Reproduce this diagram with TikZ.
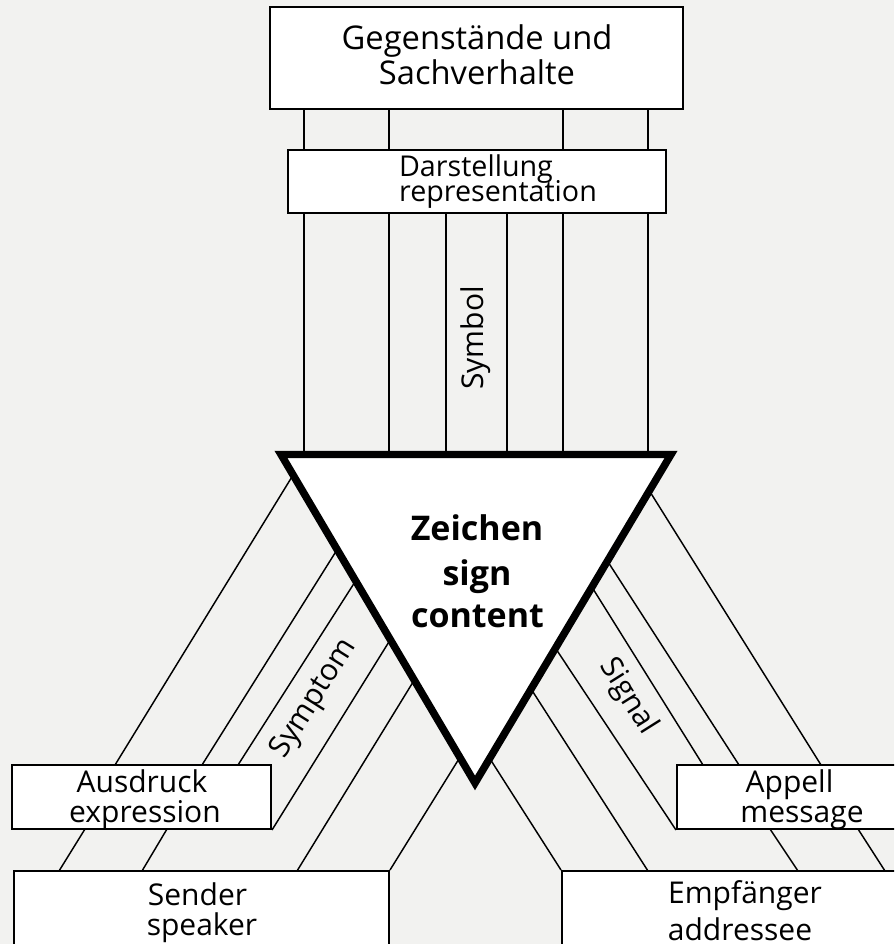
\documentclass[tikz,border=0pt]{standalone}
\usepackage{fontspec}
\setmainfont{Open Sans}
\usetikzlibrary{calc}
\definecolor{bg}{RGB}{242,242,240}
\begin{document}
\begin{tikzpicture}[x=0.75pt,y=-0.75pt,
  box/.style={draw=black,line width=1.5pt,fill=white,inner sep=0pt},
  lnk/.style={draw=black,line width=1.1pt,shorten <=-4pt},
  vlnk/.style={draw=black,line width=1.1pt},
  lbl/.style={inner sep=0pt,anchor=base},
  bigt/.style={font=\fontsize{24.5}{29}\selectfont},
  midt/.style={font=\fontsize{21.5}{25}\selectfont},
  boxt/.style={font=\fontsize{22.5}{26}\selectfont},
  sendt/.style={font=\fontsize{22.5}{26}\selectfont},
  signt/.style={font=\fontsize{25.5}{30}\selectfont\bfseries},
  rott/.style={inner sep=0pt,font=\fontsize{22.5}{26}\selectfont}]
\useasboundingbox (0,0) rectangle (894,944);
\fill[bg] (0,0) rectangle (894,944);
\begin{scope}
\clip (0,0) rectangle (894,944);
% boxes
\node[box,minimum width=309.75pt,minimum height=76.5pt] (top) at (476.5,58) {};
\node[box,minimum width=283.5pt,minimum height=47.25pt] (dar) at (477,181.5) {};
\node[box,minimum width=194.25pt,minimum height=48pt] (aus) at (141.5,797) {};
\node[box,minimum width=281.25pt,minimum height=90pt] (sen) at (201.5,931) {};
\node[box,minimum width=261pt,minimum height=90pt] (emp) at (736,931) {};
\node[box,minimum width=174.75pt,minimum height=48pt] (app) at (793.5,797) {};
% vertical links
\foreach \x in {304,389,563,648} \draw[vlnk] (\x,109) -- (\x,150);
\foreach \x in {304,389,446,507,563,648} \draw[vlnk] (\x,213) -- (\x,456);
% left links
\draw[lnk] (290,480) -- (115,765);
\draw[lnk] (335,553) -- (202,765);
\draw[lnk] (353,585) -- (238,765);
\draw[lnk] (387,645) -- (aus.south east);
\draw[lnk] (410,687) -- (297,871);
\draw[lnk] (457,762) -- (sen.north east);
\draw[vlnk] (85,829) -- (59,871);
\draw[vlnk] (167,829) -- (142,871);
% right links
\draw[lnk] (652,495) -- (821,765);
\draw[lnk] (610,565) -- (739,765);
\draw[lnk] (595,592) -- (703,765);
\draw[lnk] (558,652) -- (app.south west);
\draw[lnk] (533,692) -- (648,871);
\draw[lnk] (492,762) -- (emp.north west);
\draw[vlnk] (770,829) -- (798,871);
\draw[vlnk] (858,829) -- (885,871);
% triangle
\draw[line width=5.6pt,fill=white,miter limit=10] (281,454.5) coordinate (tl) -- (671,454.5) coordinate (tr) -- (475,783) coordinate (tb) -- cycle;
% texts
\node[lbl,bigt] (t1) at (477,50) {Gegenstände und};
\node[lbl,bigt] (t2) at (477,85) {Sachverhalte};
\node[lbl,midt] (d1) at (476,177) {Darstellung};
\node[lbl,midt] (d2) at (498,202) {representation};
\node[lbl,boxt] (a1) at (142,792) {Ausdruck};
\node[lbl,boxt] (a2) at (145,822) {expression};
\node[lbl,sendt] (s1) at (197.5,905) {Sender};
\node[lbl,sendt] (s2) at (202,935) {speaker};
\node[lbl,boxt] (p1) at (789.5,792) {Appell};
\node[lbl,boxt] (p2) at (802,822) {message};
\node[lbl,sendt] (e1) at (745,903) {Empfänger};
\node[lbl,sendt] (e2) at (740,940) {addressee};
\node[lbl,signt] (z1) at (477,540) {Zeichen};
\node[lbl,signt] (z2) at (477,585) {sign};
\node[lbl,signt] (z3) at (477.5,627) {content};
\node[rott,rotate=90] (sym) at (476,338) {Symbol};
\node[rott,rotate=57.8] (spt) at (314,699) {Symptom};
\node[rott,rotate=-57.8] (sgn) at (628,697) {Signal};
\end{scope}
\end{tikzpicture}
\end{document}
